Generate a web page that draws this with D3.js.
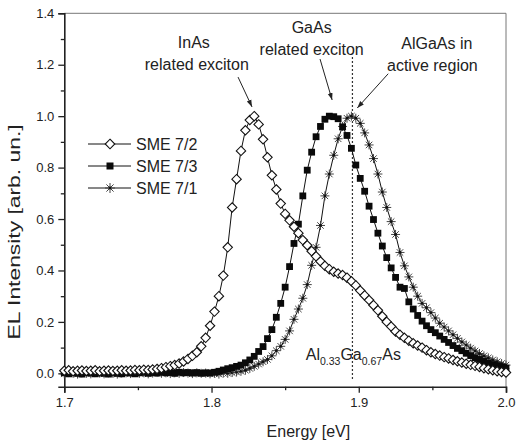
<!DOCTYPE html>
<html><head><meta charset="utf-8">
<script src="https://cdn.jsdelivr.net/npm/d3@7/dist/d3.min.js"></script>
<style>
html,body{margin:0;padding:0;background:#fff;}
text{font-family:"Liberation Sans",Arial,Helvetica,sans-serif;fill:#222;}
</style></head>
<body><svg id="c" width="516" height="448"></svg>
<script>
// ---- data ----
const energy = [1.700,1.703,1.706,1.709,1.712,1.715,1.718,1.721,1.724,1.727,
1.730,1.733,1.736,1.739,1.742,1.745,1.748,1.751,1.754,1.757,
1.760,1.763,1.766,1.769,1.772,1.775,1.778,1.781,1.784,1.787,
1.790,1.793,1.796,1.799,1.802,1.805,1.808,1.811,1.814,1.817,
1.820,1.823,1.826,1.829,1.832,1.835,1.838,1.841,1.844,1.847,
1.850,1.853,1.856,1.859,1.862,1.865,1.868,1.871,1.874,1.877,
1.880,1.883,1.886,1.889,1.892,1.895,1.898,1.901,1.904,1.907,
1.910,1.913,1.916,1.919,1.922,1.925,1.928,1.931,1.934,1.937,
1.940,1.943,1.946,1.949,1.952,1.955,1.958,1.961,1.964,1.967,
1.970,1.973,1.976,1.979,1.982,1.985,1.988,1.991,1.994,1.997,2.000];

const sme72 = [0.010,0.012,0.008,0.010,0.011,0.009,0.010,0.012,0.008,0.010,
0.011,0.009,0.010,0.012,0.010,0.011,0.013,0.012,0.014,0.013,
0.015,0.017,0.020,0.024,0.028,0.032,0.038,0.046,0.056,0.068,
0.082,0.105,0.138,0.185,0.240,0.300,0.380,0.490,0.645,0.755,
0.865,0.945,0.985,1.000,0.968,0.910,0.840,0.770,0.715,0.660,
0.620,0.595,0.570,0.545,0.518,0.498,0.475,0.455,0.435,0.418,
0.405,0.395,0.388,0.382,0.372,0.358,0.342,0.322,0.303,0.285,
0.265,0.245,0.222,0.200,0.182,0.163,0.150,0.138,0.127,0.117,
0.108,0.100,0.090,0.082,0.075,0.069,0.063,0.058,0.052,0.047,
0.042,0.037,0.033,0.029,0.025,0.020,0.016,0.012,0.008,0.005,0.003];

const sme73 = [0.002,-0.002,0.004,0.000,-0.003,0.003,0.001,-0.002,0.002,0.000,
-0.003,0.002,0.000,-0.002,0.003,0.001,-0.002,0.002,0.004,0.000,
0.003,0.001,0.004,0.002,0.003,0.000,0.004,0.002,0.003,0.001,
0.003,0.000,0.002,0.001,0.004,0.008,0.013,0.018,0.022,0.027,
0.032,0.041,0.052,0.066,0.085,0.104,0.135,0.170,0.218,0.272,
0.335,0.415,0.505,0.580,0.690,0.790,0.860,0.920,0.960,0.988,
1.000,0.998,0.990,0.958,0.925,0.875,0.810,0.758,0.708,0.650,
0.598,0.545,0.495,0.450,0.410,0.373,0.335,0.330,0.278,0.250,
0.225,0.203,0.185,0.170,0.158,0.145,0.132,0.120,0.108,0.097,
0.088,0.078,0.069,0.061,0.054,0.047,0.040,0.034,0.029,0.024,0.020];

const sme71 = [-0.002,0.003,0.000,-0.003,0.002,0.000,-0.002,0.003,0.001,-0.002,
0.002,0.000,-0.003,0.001,0.002,-0.001,0.003,0.000,0.002,-0.002,
0.001,0.003,0.000,0.002,-0.001,0.002,0.000,0.003,0.001,-0.001,
0.002,0.000,0.001,-0.002,0.000,-0.003,0.001,0.000,0.003,0.005,
0.008,0.012,0.019,0.027,0.036,0.045,0.054,0.068,0.088,0.105,
0.132,0.165,0.210,0.250,0.292,0.345,0.420,0.490,0.575,0.690,
0.775,0.848,0.912,0.960,0.992,1.000,0.992,0.972,0.935,0.888,
0.835,0.775,0.705,0.645,0.590,0.540,0.470,0.418,0.375,0.335,
0.300,0.272,0.255,0.236,0.215,0.195,0.180,0.165,0.150,0.136,
0.122,0.110,0.098,0.087,0.077,0.068,0.060,0.052,0.045,0.038,0.032];

const seriesNames = ["SME 7/2","SME 7/3","SME 7/1"];
const xTicks = [1.7,1.8,1.9,2.0];
const xMinor = [1.75,1.85,1.95];
const yTicks = [0.0,0.2,0.4,0.6,0.8,1.0,1.2,1.4];
const yMinor = [0.1,0.3,0.5,0.7,0.9,1.1,1.3];
const xLabel = "Energy [eV]";
const yLabel = "EL Intensity [arb. un.]";
// annotations: [text lines], anchor energy, baseline values
const notes = [
  {lines:["InAs","related exciton"], e:[1.788,1.790], v:[1.265,1.180], arrow:[1.818,1.152,1.8275,1.036]},
  {lines:["GaAs","related exciton"], e:[1.868,1.868], v:[1.324,1.238], arrow:[1.8737,1.222,1.8819,1.063]},
  {lines:["AlGaAs in","active region"], e:[1.953,1.950], v:[1.261,1.176], arrow:[1.920,1.165,1.899,1.032]}
];
const markerLine = {e:1.8957, v0:1.23, v1:-0.027};
const alloy = {e:1.864, v:0.052, parts:[["Al",0],["0.33",1],["Ga",0],["0.67",1],["As",0]]};

// ---- drawing ----
const W=516,H=448, m={l:64.3,t:13.3,r:10,b:61.3};
const svg=d3.select("#c");
const x=d3.scaleLinear().domain([1.7,2.0]).range([m.l,W-m.r]);
const y=d3.scaleLinear().domain([-0.052,1.4]).range([H-m.b,m.t]);

const defs=svg.append("defs");
defs.append("marker").attr("id","ah").attr("viewBox","0 0 10 10").attr("refX",10).attr("refY",5)
  .attr("markerWidth",7).attr("markerHeight",7).attr("orient","auto-start-reverse")
  .append("path").attr("d","M0,1.5 L10,5 L0,8.5 Z").attr("fill","#222");

// frame top/right
svg.append("line").attr("x1",x(1.7)).attr("x2",x(2.0)).attr("y1",y(1.4)).attr("y2",y(1.4)).attr("stroke","#777").attr("stroke-width",1);
svg.append("line").attr("x1",x(2.0)).attr("x2",x(2.0)).attr("y1",y(1.4)).attr("y2",y(-0.052)).attr("stroke","#777").attr("stroke-width",1);

// axes
const gx=svg.append("g").attr("transform",`translate(0,${y(-0.052)})`)
  .call(d3.axisBottom(x).tickValues(xTicks).tickFormat(d3.format(".1f")).tickSize(6).tickPadding(5));
const gxm=svg.append("g").attr("transform",`translate(0,${y(-0.052)})`)
  .call(d3.axisBottom(x).tickValues(xMinor).tickFormat("").tickSize(3.5));
const gy=svg.append("g").attr("transform",`translate(${x(1.7)},0)`)
  .call(d3.axisLeft(y).tickValues(yTicks).tickFormat(d3.format(".1f")).tickSize(6).tickPadding(4));
const gym=svg.append("g").attr("transform",`translate(${x(1.7)},0)`)
  .call(d3.axisLeft(y).tickValues(yMinor).tickFormat("").tickSize(3.5));
[gx,gxm,gy,gym].forEach(g=>{
  g.select(".domain").attr("stroke","#222").attr("stroke-width",1.6);
  g.selectAll(".tick line").attr("stroke","#222").attr("stroke-width",1.3);
  g.selectAll("text").attr("font-size","13px").attr("fill","#333").style("font-family",'"Liberation Sans",Arial,sans-serif');
});
gxm.select(".domain").remove(); gym.select(".domain").remove();

svg.append("text").attr("x",x(1.8658)).attr("y",437).attr("text-anchor","middle").attr("font-size","16px").text(xLabel);
svg.append("text").attr("transform",`translate(20,${y(0.55)}) rotate(-90)`).attr("text-anchor","middle")
  .attr("font-size","16px").attr("textLength",215).attr("lengthAdjust","spacingAndGlyphs").text(yLabel);

// dotted marker line
svg.append("line").attr("x1",x(markerLine.e)).attr("x2",x(markerLine.e))
  .attr("y1",y(markerLine.v0)).attr("y2",y(markerLine.v1))
  .attr("stroke","#333").attr("stroke-width",1.2).attr("stroke-dasharray","2,2");

// series
const pts = vals => energy.map((e,i)=>({e,v:vals[i]}));
const line=d3.line().x(d=>x(d.e)).y(d=>y(d.v));
function star(g,cx,cy,r){
  const p=`M${cx-r},${cy}L${cx+r},${cy}M${cx},${cy-r}L${cx},${cy+r}`+
          `M${cx-r*0.72},${cy-r*0.72}L${cx+r*0.72},${cy+r*0.72}M${cx-r*0.72},${cy+r*0.72}L${cx+r*0.72},${cy-r*0.72}`;
  g.append("path").attr("d",p).attr("stroke","#444").attr("stroke-width",1).attr("fill","none");
  g.append("circle").attr("cx",cx).attr("cy",cy).attr("r",1.4).attr("fill","#111");
}
function diamond(g,cx,cy,r){
  g.append("path").attr("d",`M${cx},${cy-r}L${cx+r},${cy}L${cx},${cy+r}L${cx-r},${cy}Z`)
   .attr("fill","#fff").attr("stroke","#111").attr("stroke-width",1.1);
}
function square(g,cx,cy,s){
  g.append("rect").attr("x",cx-s/2).attr("y",cy-s/2).attr("width",s).attr("height",s).attr("fill","#0a0a0a");
}
const g71=svg.append("g"), g73=svg.append("g"), g72=svg.append("g");
g71.append("path").datum(pts(sme71)).attr("d",line).attr("fill","none").attr("stroke","#111").attr("stroke-width",1);
pts(sme71).forEach(d=>star(g71,x(d.e),y(d.v),4.5));
g73.append("path").datum(pts(sme73)).attr("d",line).attr("fill","none").attr("stroke","#111").attr("stroke-width",1);
pts(sme73).forEach(d=>square(g73,x(d.e),y(d.v),6.8));
g72.append("path").datum(pts(sme72)).attr("d",line).attr("fill","none").attr("stroke","#111").attr("stroke-width",1);
pts(sme72).forEach(d=>diamond(g72,x(d.e),y(d.v),4.7));

// legend
const lg=svg.append("g");
const rows=[144,166,188];
seriesNames.forEach((n,i)=>{
  const ry=rows[i];
  lg.append("line").attr("x1",88).attr("x2",131).attr("y1",ry).attr("y2",ry).attr("stroke","#111").attr("stroke-width",1);
  if(i===0) diamond(lg,110,ry,4.8);
  if(i===1) square(lg,110,ry,7);
  if(i===2) star(lg,110,ry,5);
  lg.append("text").attr("x",136).attr("y",ry+5.8).attr("font-size","16px").text(n);
});

// annotations
notes.forEach(n=>{
  n.lines.forEach((t,i)=>{
    svg.append("text").attr("x",x(n.e[i])).attr("y",y(n.v[i])).attr("text-anchor","middle").attr("font-size","16px").text(t);
  });
  const a=n.arrow;
  svg.append("line").attr("x1",x(a[0])).attr("y1",y(a[1])).attr("x2",x(a[2])).attr("y2",y(a[3]))
    .attr("stroke","#222").attr("stroke-width",1).attr("marker-end","url(#ah)");
});

// alloy label
const al=svg.append("text").attr("x",x(alloy.e)).attr("y",y(alloy.v)).attr("font-size","16px");
let prevSub=0;
alloy.parts.forEach(([t,sub])=>{
  const dy = sub&&!prevSub ? 5 : (!sub&&prevSub ? -5 : 0);
  al.append("tspan").attr("dy",dy).attr("font-size",sub?"10.5px":"16px").text(t);
  prevSub=sub;
});
</script></body></html>
